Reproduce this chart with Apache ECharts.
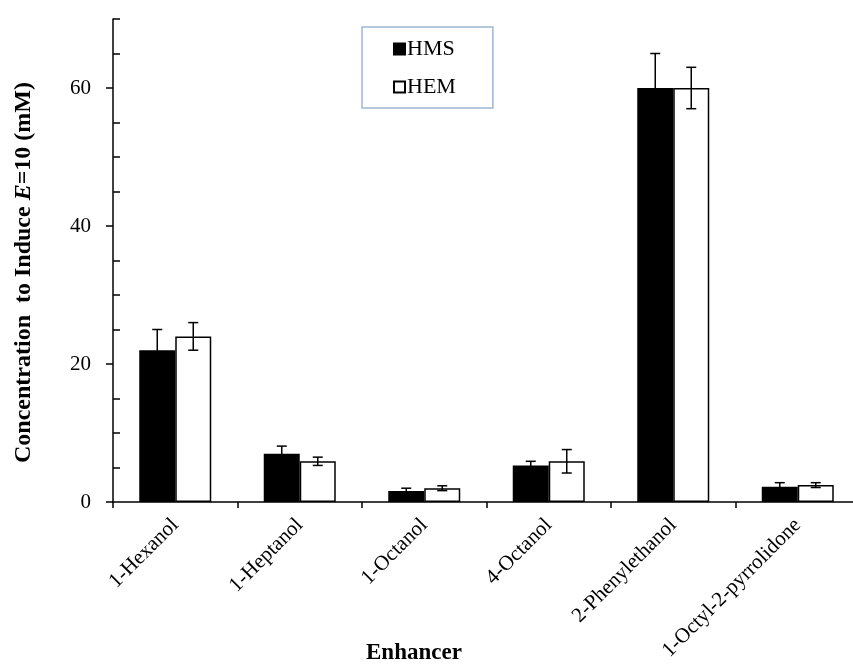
<!DOCTYPE html>
<html>
<head>
<meta charset="utf-8">
<script src="https://cdn.jsdelivr.net/npm/echarts@6/dist/echarts.min.js"></script>
<style>html,body{margin:0;padding:0;background:#fff;overflow:hidden;width:853px;height:668px;}#c{width:861px;height:668px;}</style>
</head>
<body>
<div id="c"></div>
<script>
const categories = ['1-Hexanol', '1-Heptanol', '1-Octanol', '4-Octanol', '2-Phenylethanol', '1-Octyl-2-pyrrolidone'];
const hmsValues = [22, 7.0, 1.6, 5.3, 60, 2.2];
const hmsErrors = [3, 1.1, 0.4, 0.6, 5, 0.6];
const hemValues = [24, 5.9, 2.0, 5.9, 60, 2.45];
const hemErrors = [2, 0.6, 0.35, 1.7, 3, 0.35];
const yMajorTicks = [0, 20, 40, 60];
const yMinorTicks = [5, 10, 15, 25, 30, 35, 45, 50, 55, 65, 70];
const yMin = 0, yMax = 70;

const FONT = '"Liberation Serif", "Times New Roman", serif';
const BAR_W = 36;

function errData(vals, errs) {
  return vals.map((v, i) => [i, v, errs[i]]);
}
function errRender(offset) {
  return function (params, api) {
    const i = api.value(0), v = api.value(1), e = api.value(2);
    const hi = api.coord([i, v + e]);
    const lo = api.coord([i, v - e]);
    const x = hi[0] + offset;
    const cap = 5;
    const st = { stroke: '#000', lineWidth: 1.5 };
    return {
      type: 'group',
      children: [
        { type: 'line', shape: { x1: x, y1: hi[1], x2: x, y2: lo[1] }, style: st },
        { type: 'line', shape: { x1: x - cap, y1: hi[1], x2: x + cap, y2: hi[1] }, style: st },
        { type: 'line', shape: { x1: x - cap, y1: lo[1], x2: x + cap, y2: lo[1] }, style: st }
      ]
    };
  };
}

const chart = echarts.init(document.getElementById('c'), null, { renderer: 'canvas' });
chart.setOption({
  animation: false,
  backgroundColor: '#fff',
  grid: { left: 113, right: 1, top: 19, bottom: 166, containLabel: false },
  legend: {
    orient: 'vertical',
    left: 362, top: 27,
    padding: [11, 37, 10, 31],
    itemGap: 16,
    itemWidth: 11, itemHeight: 11,
    icon: 'rect',
    borderColor: '#9fb6d3', borderWidth: 1.5,
    textStyle: { fontFamily: FONT, fontSize: 22, color: '#000', padding: [0, 0, 0, -3] },
    data: ['HMS', 'HEM']
  },
  xAxis: {
    type: 'category',
    data: categories,
    axisLine: { lineStyle: { color: '#000', width: 1.5 } },
    axisTick: { show: true, alignWithLabel: false, length: 6, lineStyle: { color: '#000', width: 1.5 } },
    axisLabel: { interval: 0, rotate: 45, margin: 20, fontFamily: FONT, fontSize: 21, color: '#000' },
    splitLine: { show: false }
  },
  yAxis: [
    {
      type: 'value', min: yMin, max: yMax, interval: 5,
      position: 'left',
      name: '{b|Concentration  to Induce }{i|E}{b|=10 (mM)}',
      nameLocation: 'middle',
      nameGap: 77,
      nameTextStyle: {
        padding: [0, 24, 0, 0],
        rich: {
          b: { fontFamily: FONT, fontSize: 24, fontWeight: 'bold', color: '#000' },
          i: { fontFamily: FONT, fontSize: 24, fontWeight: 'bold', fontStyle: 'italic', color: '#000' }
        }
      },
      axisLine: { show: true, lineStyle: { color: '#000', width: 1.5 } },
      axisTick: { show: true, inside: false, length: 7, customValues: yMajorTicks, lineStyle: { color: '#000', width: 1.5 } },
      axisLabel: { customValues: yMajorTicks, margin: 22, fontFamily: FONT, fontSize: 21, color: '#000' },
      splitLine: { show: false }
    },
    {
      type: 'value', min: yMin, max: yMax, interval: 5,
      position: 'left', offset: 0,
      axisLine: { show: false },
      axisTick: { show: true, inside: true, length: 7, customValues: yMinorTicks, lineStyle: { color: '#000', width: 1.5 } },
      axisLabel: { show: false },
      splitLine: { show: false }
    }
  ],
  graphic: [{
    type: 'text', left: 366, top: 642,
    style: { text: 'Enhancer', fontFamily: FONT, fontSize: 23, fontWeight: 'bold', fill: '#000' }
  }],
  series: [
    {
      name: 'HMS', type: 'bar', data: hmsValues, barWidth: BAR_W, barGap: '0%',
      itemStyle: { color: '#000', borderColor: '#000', borderWidth: 1.5 }
    },
    {
      name: 'HEM', type: 'bar', data: hemValues, barWidth: BAR_W, barGap: '0%',
      itemStyle: { color: '#fff', borderColor: '#000', borderWidth: 1.5 }
    },
    {
      type: 'custom', name: 'HMS err', data: errData(hmsValues, hmsErrors),
      renderItem: errRender(-BAR_W / 2), z: 5, silent: true,
      encode: { x: 0, y: 1 }
    },
    {
      type: 'custom', name: 'HEM err', data: errData(hemValues, hemErrors),
      renderItem: errRender(BAR_W / 2), z: 5, silent: true,
      encode: { x: 0, y: 1 }
    }
  ]
});
</script>
</body>
</html>
